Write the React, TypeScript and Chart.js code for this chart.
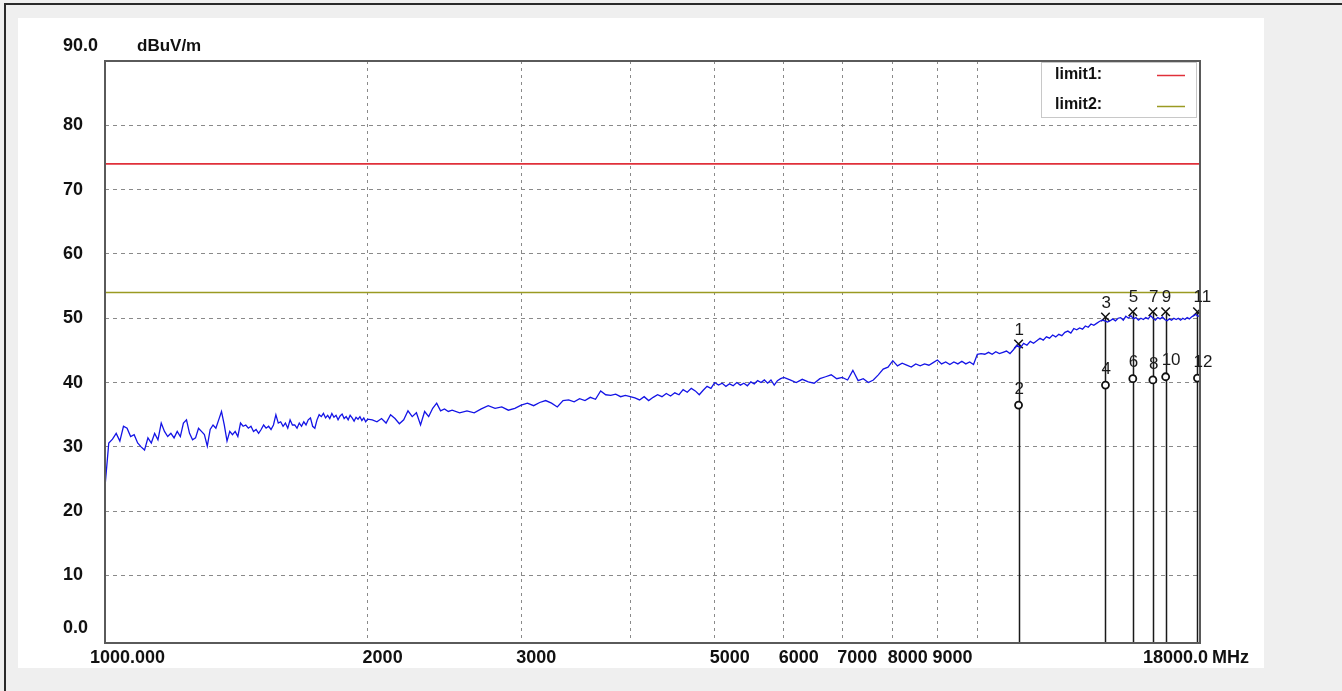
import React, { useEffect, useRef } from 'react';
import { Chart, registerables } from 'chart.js';

Chart.register(...registerables);

// ---------------- data ----------------
const X_MIN = 1000;
const X_MAX = 18000;
const Y_MIN = -0.5;
const Y_MAX = 90;

const yTickValues = [10, 20, 30, 40, 50, 60, 70, 80];
const xGridValues = [2000, 3000, 4000, 5000, 6000, 7000, 8000, 9000, 10000];
const xLabelValues = [2000, 3000, 5000, 6000, 7000, 8000, 9000];

const limit1Level = 74;
const limit2Level = 54;

// sweep A: 1000 .. 2000 MHz, step 10 MHz
const sweepAStart = 1000;
const sweepAStep = 10;
const sweepA = [
  23.8, 30.6, 31.2, 32.1, 30.9, 33.2, 32.9, 31.6, 31.9, 30.6,
  30.0, 29.5, 31.4, 30.6, 32.1, 31.1, 33.7, 32.4, 31.6, 32.1,
  31.4, 32.4, 31.6, 33.7, 34.2, 32.1, 31.1, 31.4, 32.9, 32.4,
  31.9, 30.1, 32.7, 33.4, 32.9, 34.2, 35.5, 33.4, 30.9, 32.4,
  31.9, 32.4, 31.6, 33.7, 33.2, 33.4, 32.9, 33.2, 32.4, 32.7,
  32.1, 32.7, 33.4, 32.9, 33.2, 32.7, 33.4, 35.0, 33.7, 33.9,
  33.2, 33.7, 32.9, 34.2, 33.4, 33.4, 32.9, 33.7, 33.2, 33.9,
  33.4, 34.2, 34.5, 33.2, 32.9, 34.2, 35.0, 34.7, 35.2, 34.5,
  34.9, 34.4, 35.2, 34.6, 34.9, 34.2, 34.8, 35.1, 34.4, 34.7,
  34.2, 34.9, 34.5, 34.0, 34.6, 34.3, 34.7, 34.1, 34.5, 33.9,
  34.3,
];

// sweep B: 2025 .. 2500 MHz, step 25 MHz
const sweepBStart = 2025;
const sweepBStep = 25;
const sweepB = [
  34.2, 33.9, 34.4, 33.7, 35.0, 34.4, 33.6, 34.2, 35.6, 34.7,
  35.3, 33.4, 35.5, 34.7, 36.0, 36.8, 35.6, 35.9, 35.5, 35.7,
];

// sweep C: 2550 .. 4000 MHz, step 50 MHz
const sweepCStart = 2550;
const sweepCStep = 50;
const sweepC = [
  35.3, 35.6, 35.3, 35.9, 36.4, 36.0, 36.2, 35.7, 36.0, 36.5,
  36.8, 36.4, 36.9, 37.2, 36.8, 36.2, 37.2, 37.3, 37.0, 37.5,
  37.2, 37.7, 37.4, 38.7, 38.1, 38.0, 38.2, 37.8, 38.0, 37.8,
];

// sweep D: 4050 .. 6000 MHz, step 50 MHz
const sweepDStart = 4050;
const sweepDStep = 50;
const sweepD = [
  37.6, 37.3, 37.8, 37.2, 37.7, 38.1, 37.8, 38.3, 37.9, 38.4,
  38.1, 38.9, 38.5, 39.1, 38.7, 38.1, 38.8, 39.4, 39.1, 40.0,
  39.6, 39.9, 39.4, 39.8, 39.5, 40.0, 39.6, 39.9, 39.5, 40.1,
  39.8, 40.3, 40.0, 40.4, 39.9, 40.4, 39.6, 40.3, 40.6, 40.8,
];

// sweep E: 6100 .. 10000 MHz, step 100 MHz
const sweepEStart = 6100;
const sweepEStep = 100;
const sweepE = [
  40.4, 40.0, 40.5, 40.1, 39.9, 40.6, 40.9, 41.2, 40.6, 40.8,
  40.4, 41.9, 40.3, 40.6, 40.0, 40.4, 41.2, 42.1, 42.4, 43.4,
  42.6, 43.0, 42.7, 42.4, 42.9, 42.6, 42.9, 42.7, 43.1, 43.5,
  42.9, 43.2, 42.8, 43.2, 42.9, 43.3, 42.9, 43.2, 42.8, 44.4,
];

// sweep F: 10100 .. 18000 MHz, step 100 MHz
const sweepFStart = 10100;
const sweepFStep = 100;
const sweepF = [
  44.5, 44.4, 44.7, 44.4, 44.8, 44.5, 44.7, 44.9, 44.5, 45.1,
  45.8, 45.4, 46.1, 45.8, 46.4, 46.1, 46.5, 46.9, 46.6, 47.1,
  46.9, 47.4, 47.1, 47.5, 47.3, 47.8, 48.0, 47.7, 48.4, 48.2,
  48.5, 48.3, 48.8, 48.6, 49.1, 48.9, 49.2, 49.5, 49.7, 49.6,
  49.4, 49.6, 49.9, 49.6, 50.0, 50.1, 49.7, 50.3, 50.0, 50.4,
  49.9, 50.1, 49.7, 50.0, 49.8, 50.1, 49.9, 50.4, 50.0, 49.7,
  50.1, 49.9, 50.2, 49.8, 49.6, 49.9, 49.7, 50.0, 49.8, 50.0,
  49.7, 50.0, 49.8, 50.1, 49.9, 50.2, 50.4, 50.6, 50.3, 50.4,
];

// markers (odd = peak "x", even = average "o")
const markerFreqs = [11150, 14025, 15075, 15895, 16440, 17880];
const peakLevels = [46.0, 50.2, 51.0, 51.0, 51.0, 51.0];
const avgLevels = [36.5, 39.6, 40.6, 40.4, 40.9, 40.7];
const peakNumbers = ['1', '3', '5', '7', '9', '11'];
const avgNumbers = ['2', '4', '6', '8', '10', '12'];

// ---------------- helpers ----------------
type Pt = { x: number; y: number };
const expand = (start: number, step: number, levels: number[]): Pt[] =>
  levels.map((v, i) => ({ x: start + i * step, y: v }));

const FONT = '"Liberation Sans", Arial, sans-serif';

const decorPlugin = {
  id: 'decor',
  beforeDraw(chart: any) {
    const { ctx, width, height, chartArea } = chart;
    ctx.save();
    ctx.fillStyle = '#efefef';
    ctx.fillRect(0, 0, width, height);
    ctx.fillStyle = '#ffffff';
    ctx.fillRect(18, 18, 1246, 650);
    ctx.fillRect(chartArea.left, chartArea.top, chartArea.right - chartArea.left, chartArea.bottom - chartArea.top);
    ctx.restore();
  },
  beforeDatasetsDraw(chart: any) {
    const { ctx, chartArea, scales } = chart;
    const xs = scales.x;
    const ys = scales.y;
    ctx.save();
    ctx.strokeStyle = '#1a1a1a';
    ctx.lineWidth = 1.5;
    markerFreqs.forEach((f, i) => {
      const px = Math.round(xs.getPixelForValue(f)) + 0.5;
      const py = ys.getPixelForValue(peakLevels[i]);
      ctx.beginPath();
      ctx.moveTo(px, py);
      ctx.lineTo(px, chartArea.bottom);
      ctx.stroke();
    });
    ctx.restore();
  },
  afterDraw(chart: any) {
    const { ctx, chartArea, scales } = chart;
    const xs = scales.x;
    const ys = scales.y;
    ctx.save();

    // plot frame
    ctx.strokeStyle = '#5a5a5a';
    ctx.lineWidth = 2;
    ctx.strokeRect(chartArea.left, chartArea.top, chartArea.right - chartArea.left, chartArea.bottom - chartArea.top);

    // legend box
    const lx = 1041;
    const ly = chartArea.top + 1;
    ctx.fillStyle = '#ffffff';
    ctx.fillRect(lx, ly, chartArea.right - lx - 1, 56);
    ctx.strokeStyle = '#c8c8c8';
    ctx.lineWidth = 1;
    ctx.strokeRect(lx + 0.5, ly + 0.5, chartArea.right - lx - 4, 55);
    ctx.font = `bold 16px ${FONT}`;
    ctx.fillStyle = '#111';
    ctx.textAlign = 'left';
    ctx.textBaseline = 'middle';
    ctx.fillText('limit1:', 1055, 75);
    ctx.fillText('limit2:', 1055, 105);
    ctx.lineWidth = 1.5;
    ctx.strokeStyle = '#e0303a';
    ctx.beginPath();
    ctx.moveTo(1157, 75.5);
    ctx.lineTo(1185, 75.5);
    ctx.stroke();
    ctx.strokeStyle = '#9a9a22';
    ctx.beginPath();
    ctx.moveTo(1157, 106.5);
    ctx.lineTo(1185, 106.5);
    ctx.stroke();

    // y labels
    ctx.fillStyle = '#111';
    ctx.font = `bold 18px ${FONT}`;
    ctx.textAlign = 'left';
    ctx.textBaseline = 'middle';
    yTickValues.forEach((v) => {
      ctx.fillText(String(v), 63, ys.getPixelForValue(v));
    });
    ctx.fillText('90.0', 63, ys.getPixelForValue(90) - 15);
    ctx.fillText('0.0', 63, ys.getPixelForValue(0) - 12);
    ctx.font = `bold 17px ${FONT}`;
    ctx.fillText('dBuV/m', 137, ys.getPixelForValue(90) - 15);

    // x labels
    ctx.font = `bold 18px ${FONT}`;
    const labY = chartArea.bottom + 15;
    xLabelValues.forEach((v) => {
      ctx.fillText(String(v), xs.getPixelForValue(v) - 5, labY);
    });
    ctx.fillText('1000.000', xs.getPixelForValue(X_MIN) - 15, labY);
    ctx.textAlign = 'right';
    ctx.fillText('18000.0', xs.getPixelForValue(X_MAX) + 8, labY);
    ctx.textAlign = 'left';
    ctx.fillText('MHz', xs.getPixelForValue(X_MAX) + 12, labY);

    // marker numbers
    ctx.font = `17px ${FONT}`;
    ctx.fillStyle = '#1a1a1a';
    markerFreqs.forEach((f, i) => {
      const px = xs.getPixelForValue(f);
      ctx.fillText(peakNumbers[i], px - 4, ys.getPixelForValue(peakLevels[i]) - 14);
      ctx.fillText(avgNumbers[i], px - 4, ys.getPixelForValue(avgLevels[i]) - 16);
    });

    // outer frame lines
    ctx.strokeStyle = '#2a2a2a';
    ctx.lineWidth = 2;
    ctx.beginPath();
    ctx.moveTo(5, 691);
    ctx.lineTo(5, 4);
    ctx.lineTo(1342, 4);
    ctx.stroke();

    ctx.restore();
  },
};

const App: React.FC = () => {
  const ref = useRef<HTMLCanvasElement>(null);

  useEffect(() => {
    document.body.style.margin = '0';
    const canvas = ref.current;
    if (!canvas) return;

    const trace: Pt[] = [
      ...expand(sweepAStart, sweepAStep, sweepA),
      ...expand(sweepBStart, sweepBStep, sweepB),
      ...expand(sweepCStart, sweepCStep, sweepC),
      ...expand(sweepDStart, sweepDStep, sweepD),
      ...expand(sweepEStart, sweepEStep, sweepE),
      ...expand(sweepFStart, sweepFStep, sweepF),
    ];

    const chart = new Chart(canvas, {
      type: 'scatter',
      data: {
        datasets: [
          {
            label: 'limit1',
            data: [
              { x: X_MIN, y: limit1Level },
              { x: X_MAX, y: limit1Level },
            ],
            showLine: true,
            borderColor: '#e0303a',
            borderWidth: 1.6,
            pointRadius: 0,
          },
          {
            label: 'limit2',
            data: [
              { x: X_MIN, y: limit2Level },
              { x: X_MAX, y: limit2Level },
            ],
            showLine: true,
            borderColor: '#9a9a22',
            borderWidth: 1.6,
            pointRadius: 0,
          },
          {
            label: 'trace',
            data: trace,
            showLine: true,
            borderColor: '#1414e6',
            borderWidth: 1.3,
            pointRadius: 0,
            tension: 0,
          },
          {
            label: 'peak',
            data: markerFreqs.map((f, i) => ({ x: f, y: peakLevels[i] })),
            showLine: false,
            pointStyle: 'crossRot',
            pointRadius: 6,
            borderColor: '#111',
            borderWidth: 1.5,
          },
          {
            label: 'avg',
            data: markerFreqs.map((f, i) => ({ x: f, y: avgLevels[i] })),
            showLine: false,
            pointStyle: 'circle',
            pointRadius: 3.5,
            borderColor: '#111',
            backgroundColor: '#ffffff',
            borderWidth: 1.8,
          },
        ],
      } as any,
      options: {
        responsive: false,
        animation: false,
        events: [],
        layout: { padding: { left: 105, top: 61, right: 142, bottom: 48 } },
        plugins: { legend: { display: false }, tooltip: { enabled: false } },
        scales: {
          x: {
            type: 'logarithmic',
            min: X_MIN,
            max: X_MAX,
            afterBuildTicks: (scale: any) => {
              scale.ticks = xGridValues.map((v) => ({ value: v }));
            },
            ticks: { display: false },
            grid: { color: '#8a8a8a', lineWidth: 1, drawTicks: false },
            border: { display: false, dash: [3, 4] },
          },
          y: {
            type: 'linear',
            min: Y_MIN,
            max: Y_MAX,
            afterBuildTicks: (scale: any) => {
              scale.ticks = yTickValues.map((v) => ({ value: v }));
            },
            ticks: { display: false },
            grid: { color: '#8a8a8a', lineWidth: 1, drawTicks: false },
            border: { display: false, dash: [4, 4] },
          },
        },
      } as any,
      plugins: [decorPlugin],
    });

    return () => chart.destroy();
  }, []);

  return (
    <div style={{ position: 'fixed', left: 0, top: 0, width: 1342, height: 691 }}>
      <canvas ref={ref} width={1342} height={691} style={{ display: 'block' }} />
    </div>
  );
};

export default App;
